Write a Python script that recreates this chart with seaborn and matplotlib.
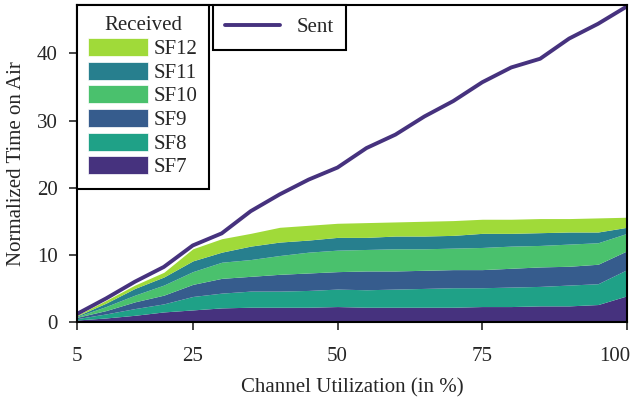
import seaborn as sns
import matplotlib.pyplot as plt
import matplotlib.transforms as mtransforms
import pandas as pd
from matplotlib.patches import Patch

utilization = [5, 10, 15, 20, 25, 30, 35, 40, 45, 50, 55, 60, 65, 70, 75, 80, 85, 90, 95, 100]

sent = [1.2, 3.5, 6.0, 8.2, 11.4, 13.2, 16.5, 19.0, 21.2, 23.0, 25.9, 27.9, 30.6,
        32.9, 35.7, 37.9, 39.2, 42.2, 44.4, 47.0]

# time on air received, per spreading factor (stacked)
sf7 = [0.3, 0.6, 1.0, 1.5, 1.8, 2.1, 2.2, 2.2, 2.2, 2.3, 2.2, 2.2, 2.2, 2.2, 2.3, 2.3, 2.4, 2.4, 2.6, 3.9]
sf8 = [0.2, 0.6, 1.0, 1.2, 2.0, 2.2, 2.4, 2.4, 2.5, 2.6, 2.6, 2.7, 2.8, 2.9, 2.8, 2.9, 2.9, 3.1, 3.1, 3.9]
sf9 = [0.2, 0.5, 1.0, 1.3, 1.8, 2.2, 2.2, 2.5, 2.6, 2.6, 2.8, 2.7, 2.7, 2.7, 2.7, 2.8, 2.9, 2.8, 2.9, 2.8]
sf10 = [0.1, 0.6, 1.0, 1.5, 1.9, 2.4, 2.5, 2.8, 3.1, 3.2, 3.2, 3.3, 3.2, 3.2, 3.3, 3.3, 3.2, 3.3, 3.2, 2.6]
sf11 = [0.1, 0.5, 1.0, 1.2, 1.6, 1.5, 2.0, 2.0, 1.8, 1.9, 1.8, 1.9, 1.9, 1.9, 2.1, 1.9, 1.9, 1.8, 1.6, 0.9]
sf12 = [0.1, 0.4, 0.5, 0.7, 1.8, 2.0, 1.9, 2.2, 2.2, 2.1, 2.2, 2.1, 2.2, 2.2, 2.1, 2.1, 2.1, 2.0, 2.1, 1.5]

sf_labels = ["SF7", "SF8", "SF9", "SF10", "SF11", "SF12"]
sf_colors = ["#46327e", "#1fa187", "#365c8d", "#4ac16d", "#277f8e", "#a0da39"]
sent_color = "#46327e"

df = pd.DataFrame({"util": utilization, "sent": sent})

sns.set_style("ticks")
plt.rcParams["font.family"] = ["Liberation Serif", "DejaVu Serif"]
fs = 15

fig, ax = plt.subplots(figsize=(6.31, 3.98), dpi=100)
fig.subplots_adjust(left=77 / 631, right=627 / 631, top=1 - 5 / 398, bottom=1 - 322 / 398)

ax.stackplot(utilization, sf7, sf8, sf9, sf10, sf11, sf12, colors=sf_colors, linewidth=0)
sns.lineplot(data=df, x="util", y="sent", color=sent_color, linewidth=2.8, ax=ax, legend=False)

ax.set_xlim(5, 100)
ax.set_ylim(0, 47.2)
ax.set_xticks([5, 25, 50, 75, 100])
ax.set_yticks([0, 10, 20, 30, 40])
ax.set_xlabel("Channel Utilization (in %)", fontsize=fs, labelpad=9)
ax.set_ylabel("Normalized Time on Air", fontsize=fs, labelpad=8)
ax.tick_params(axis="x", direction="out", length=6, width=1.2, labelsize=fs, pad=12)
ax.tick_params(axis="y", direction="out", length=6, width=1.2, labelsize=fs, pad=8)
for s in ax.spines.values():
    s.set_visible(True)
    s.set_color("black")
    s.set_linewidth(1.5)

# keep the last x tick label inside the figure
last = ax.get_xticklabels()[-1]
last.set_transform(last.get_transform() + mtransforms.ScaledTranslation(-12 / 100, 0, fig.dpi_scale_trans))

handles = [Patch(facecolor=c, edgecolor="white", linewidth=0.5) for c in sf_colors][::-1]
leg1 = ax.legend(handles, sf_labels[::-1], title="Received", loc="upper left",
                 bbox_to_anchor=(0, 1), fancybox=False, edgecolor="black", framealpha=1,
                 handlelength=2.85, handleheight=0.95, labelspacing=0.12, handletextpad=0.3,
                 borderpad=0.55, borderaxespad=0, fontsize=fs, title_fontsize=fs)
leg1.get_frame().set_linewidth(1.5)
ax.add_artist(leg1)

leg2 = ax.legend([plt.Line2D([], [], color=sent_color, linewidth=2.8)], ["Sent"],
                 loc="upper left", bbox_to_anchor=(0.247, 1), fancybox=False,
                 edgecolor="black", framealpha=1, handlelength=2.6, borderpad=0.6,
                 borderaxespad=0, fontsize=fs)
leg2.get_frame().set_linewidth(1.5)

plt.savefig("out.png", dpi=100)
